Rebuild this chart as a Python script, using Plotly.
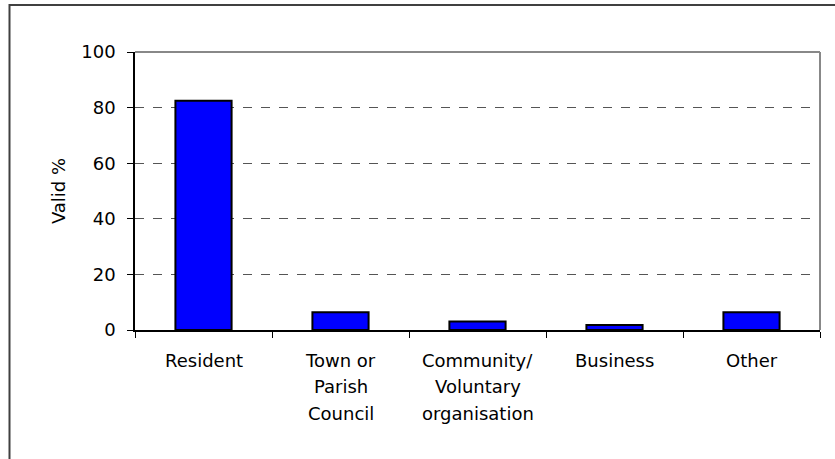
import plotly.graph_objects as go

categories = ["Resident", "Town or Parish Council", "Community/ Voluntary organisation", "Business", "Other"]
label_lines = [["Resident"], ["Town or", "Parish", "Council"], ["Community/", "Voluntary", "organisation"], ["Business"], ["Other"]]
valid_pct = [82.5, 6.4, 3.1, 1.8, 6.4]
y_ticks = [0, 20, 40, 60, 80, 100]

W, H = 835, 459
L, T = 135, 52
R = 835 - 820
B = 459 - 330
pw, ph = W - L - R, H - T - B

def px_x(p):
    return (p - L) / pw

def px_y(p):
    return (H - B - p) / ph

FONT = "DejaVu Sans, Liberation Sans, Arial, sans-serif"

fig = go.Figure()
fig.add_trace(go.Bar(
    x=categories, y=valid_pct, width=0.41,
    marker=dict(color="#0000FF", line=dict(color="#000000", width=2)),
))

fig.update_layout(
    width=W, height=H,
    margin=dict(l=L, r=R, t=T, b=B),
    paper_bgcolor="white", plot_bgcolor="white",
    font=dict(family=FONT, color="#000000", size=18),
    showlegend=False,
)
fig.update_xaxes(
    showline=True, linecolor="#000000", linewidth=1.5,
    ticks="outside", ticklen=6, tickcolor="#000000", tickwidth=1,
    tickson="boundaries", showgrid=False, showticklabels=False,
    range=[-0.5, 4.5],
)
fig.update_yaxes(
    range=[0, 100], tickvals=y_ticks,
    showline=True, linecolor="#000000", linewidth=1.5,
    ticks="outside", ticklen=6, tickcolor="#000000", tickwidth=1,
    showgrid=True, gridcolor="#555555", griddash="dash", gridwidth=1,
    zeroline=False, tickfont=dict(size=18), ticklabelstandoff=8,
    title=dict(text="Valid %", font=dict(size=18), standoff=11),
)
# category labels, one annotation per line
for cat, lines in zip(categories, label_lines):
    for i, line in enumerate(lines):
        fig.add_annotation(x=cat, xref="x", y=0, yref="paper",
                           text=line, showarrow=False, yanchor="middle",
                           yshift=-(30 + i * 26.5), font=dict(size=18, family=FONT))
# gray plot-area frame (top and right)
fig.add_shape(type="line", xref="paper", yref="paper", x0=0, x1=1, y0=1, y1=1,
              line=dict(color="#888888", width=2))
fig.add_shape(type="line", xref="paper", yref="paper", x0=1, x1=1, y0=0, y1=1,
              line=dict(color="#888888", width=2))
# outer chart border
fig.add_shape(type="rect", xref="paper", yref="paper",
              x0=px_x(9.5), x1=px_x(845), y0=px_y(470), y1=px_y(5),
              line=dict(color="#404040", width=2), layer="below")

fig.write_html("out.html", config={"displayModeBar": False},
               post_script="document.body.style.margin='0px';")
